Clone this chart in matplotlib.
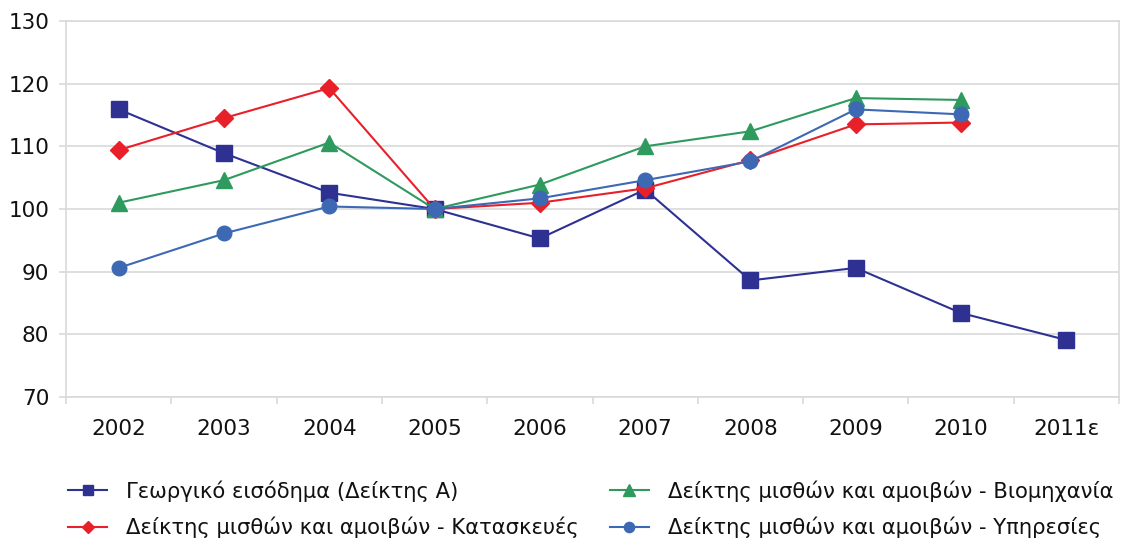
import matplotlib
matplotlib.use("Agg")
import matplotlib.pyplot as plt
import numpy as np

years = ["2002", "2003", "2004", "2005", "2006", "2007", "2008", "2009", "2010", "2011ε"]
agri = [115.9, 108.9, 102.6, 100.0, 95.3, 103.1, 88.6, 90.6, 83.4, 79.1]
constr = [109.4, 114.5, 119.3, 100.0, 101.0, 103.3, 107.8, 113.5, 113.8, None]
industry = [101.0, 104.6, 110.6, 100.0, 103.9, 110.0, 112.4, 117.7, 117.4, None]
services = [90.6, 96.1, 100.4, 100.0, 101.7, 104.6, 107.6, 115.9, 115.1, None]

labels = [
    "Γεωργικό εισόδημα (Δείκτης Α)",
    "Δείκτης μισθών και αμοιβών - Κατασκευές",
    "Δείκτης μισθών και αμοιβών - Βιομηχανία",
    "Δείκτης μισθών και αμοιβών - Υπηρεσίες",
]
colors = ["#2E3192", "#E8202A", "#2E9A5E", "#3D69B4"]
markers = ["s", "D", "^", "o"]
msizes = [11, 9, 12, 10.5]

plt.rcParams['font.family'] = ['DejaVu Sans']

fig = plt.figure(figsize=(11.29, 5.42), dpi=100)
ax = fig.add_axes([66/1129, 1-397/542, (1119-66)/1129, (397-21)/542])

x = np.arange(len(years))
series = [agri, constr, industry, services]
handles = []
for s, c, m, ms, lab in zip(series, colors, markers, msizes, labels):
    y = np.array([np.nan if v is None else v for v in s], dtype=float)
    h, = ax.plot(x, y, color=c, marker=m, markersize=ms, linewidth=1.5,
                 markeredgecolor=c, label=lab, zorder=3)
    handles.append(h)

ax.set_xlim(-0.5, len(years) - 0.5)
ax.set_ylim(70, 130)
ax.set_yticks(np.arange(70, 131, 10))
ax.set_xticks(x)
ax.set_xticklabels(years)
ax.set_xticks(np.arange(-0.5, len(years), 1.0), minor=True)

ax.grid(axis='y', color='#D9D9D9', linewidth=1.2, zorder=0)
for sp in ax.spines.values():
    sp.set_color('#D9D9D9')
    sp.set_linewidth(1.2)

ax.tick_params(axis='x', which='major', length=0, pad=16, labelsize=15.5)
ax.tick_params(axis='x', which='minor', length=5, color='#D9D9D9', width=1.2)
ax.tick_params(axis='y', length=5, color='#D9D9D9', width=1.2, pad=7, labelsize=15.5)
ax.tick_params(axis='both', labelcolor='#111111')

leg = fig.legend(handles=handles, loc='upper left', bbox_to_anchor=(49/1129, 1 - 461/542),
                 ncol=2, frameon=False, fontsize=15.2, handlelength=1.86,
                 handletextpad=0.9, columnspacing=1.45, labelspacing=0.72,
                 markerscale=0.7, borderpad=0.4)
for t in leg.get_texts():
    t.set_color('#111111')

fig.savefig("out.png", dpi=100)
